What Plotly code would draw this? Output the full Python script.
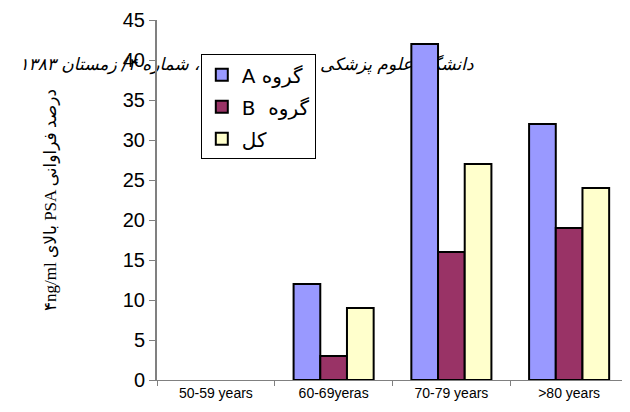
import plotly.graph_objects as go

categories = ["50-59 years", "60-69yeras", "70-79 years", ">80 years"]
group_a = [None, 12, 42, 32]
group_b = [None, 3, 16, 19]
total = [None, 9, 27, 24]
series_names = ["A گروه", "B  گروه", "کل"]
colors = ["#9999FF", "#993366", "#FFFFCC"]
y_ticks = [0, 5, 10, 15, 20, 25, 30, 35, 40, 45]
header = "دانشگاه علوم پزشکی شهرکرد/ دوره ۶، شماره ۴/ زمستان ۱۳۸۳"
y_title = "۴ng/ml بالای PSA درصد فراوانی"

fig = go.Figure()
for i, (name, vals) in enumerate(zip(series_names, [group_a, group_b, total])):
    fig.add_trace(go.Bar(
        x=categories, y=vals, name=name,
        marker=dict(color=colors[i], line=dict(color="black", width=2)),
        legendgroup=f"g{i}",
    ))

fig.update_layout(
    width=630, height=412,
    margin=dict(l=149, r=10, t=12, b=40),
    paper_bgcolor="white", plot_bgcolor="white",
    barmode="group", bargap=0.32, bargroupgap=0,
    font=dict(family="Liberation Sans, DejaVu Sans", color="black"),
    showlegend=True,
    legend=dict(
        x=0.093, y=0.905, xanchor="left", yanchor="top",
        bgcolor="white", bordercolor="black", borderwidth=1,
        font=dict(size=20, family="DejaVu Sans"),
        traceorder="grouped", tracegroupgap=3,
    ),
    xaxis=dict(
        showline=True, linecolor="#808080", linewidth=1,
        ticks="outside", tickson="boundaries", ticklen=5, tickcolor="#808080",
        tickfont=dict(size=14), showgrid=False,
    ),
    yaxis=dict(
        range=[0, 45], tickvals=y_ticks,
        showline=True, linecolor="#808080", linewidth=2,
        ticks="outside", ticklen=6, tickcolor="#808080",
        tickfont=dict(size=20), showgrid=False, zeroline=False,
        title=dict(text=y_title, font=dict(size=17, family="Liberation Serif, DejaVu Sans"), standoff=62),
        automargin=False,
    ),
    shapes=[dict(
        type="rect", xref="paper", yref="paper",
        x0=-0.28, x1=0.66, y0=0.84, y1=0.92,
        line=dict(width=0), fillcolor="rgba(0,0,0,0)", layer="below",
        label=dict(text=header, textposition="middle center",
                   font=dict(size=17, family="DejaVu Sans", color="black", style="italic")),
    )],
)

fig.write_html("out.html")
